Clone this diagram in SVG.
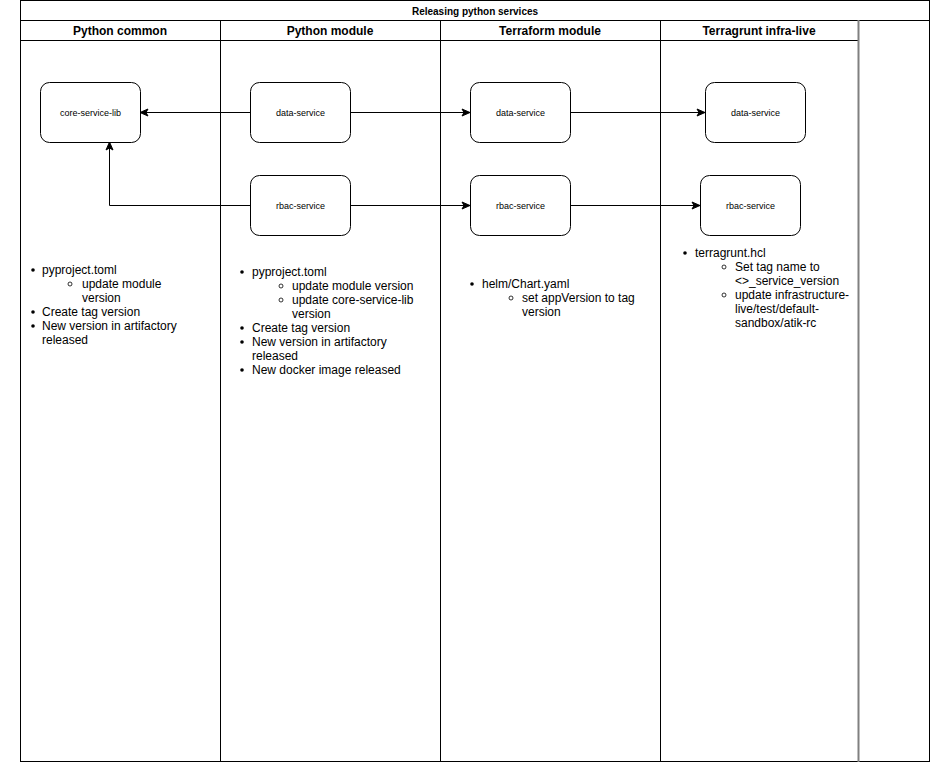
<svg xmlns="http://www.w3.org/2000/svg" width="931" height="763" viewBox="0 0 931 763">
<style>
.frame{fill:none;stroke:#000;stroke-width:1}
.node rect{fill:#fff;stroke:#000;stroke-width:1}
.node text{font-family:"Liberation Sans",Arial,sans-serif;font-size:9px;fill:#000;text-anchor:middle;dominant-baseline:central}
.title{font-family:"Liberation Sans",Arial,sans-serif;font-size:10px;font-weight:bold;text-anchor:middle;dominant-baseline:central}
.hdr{font-family:"Liberation Sans",Arial,sans-serif;font-size:12px;font-weight:bold;text-anchor:middle;dominant-baseline:central}
.lst{font-family:"Liberation Sans",Arial,sans-serif;font-size:12px;fill:#000;dominant-baseline:central}
.edge{fill:none;stroke:#000;stroke-width:1}
.dot{fill:#000}
.ring{fill:none;stroke:#000;stroke-width:0.8}
</style>
<defs>
<marker id="arr" markerUnits="userSpaceOnUse" markerWidth="10" markerHeight="10" viewBox="0 0 10 10" refX="9" refY="5" orient="auto">
<path d="M1,1.5 L9,5 L1,8.5 L3,5 Z" fill="#000" stroke="#000" stroke-width="1"/>
</marker>
</defs>
<rect x="0" y="0" width="931" height="763" fill="#fff"/>
<g id="pool">
<rect class="frame" x="20.5" y="0.5" width="909" height="761"/>
<line class="frame" x1="20" y1="20.5" x2="930" y2="20.5"/>
<line class="frame" x1="20" y1="40.5" x2="858" y2="40.5"/>
<line class="frame" x1="220.5" y1="20" x2="220.5" y2="762"/>
<line class="frame" x1="440.5" y1="20" x2="440.5" y2="762"/>
<line class="frame" x1="660.5" y1="20" x2="660.5" y2="762"/>
<line x1="858.5" y1="20" x2="858.5" y2="762" stroke="#808080" stroke-width="2"/>
<text class="title" x="475" y="11">Releasing python services</text>
<text class="hdr" x="120" y="30.5">Python common</text>
<text class="hdr" x="330" y="30.5">Python module</text>
<text class="hdr" x="550" y="30.5">Terraform module</text>
<text class="hdr" x="759" y="30.5">Terragrunt infra-live</text>
</g>
<g id="edges">
<path class="edge" d="M250,112.5 L140,112.5" marker-end="url(#arr)"/>
<path class="edge" d="M250,205.5 L109.5,205.5 L109.5,142" marker-end="url(#arr)"/>
<path class="edge" d="M350,112.5 L470,112.5" marker-end="url(#arr)"/>
<path class="edge" d="M570,112.5 L705,112.5" marker-end="url(#arr)"/>
<path class="edge" d="M350,205.5 L470,205.5" marker-end="url(#arr)"/>
<path class="edge" d="M570,205.5 L700,205.5" marker-end="url(#arr)"/>
</g>
<g id="core-service-lib" class="node"><rect x="40.5" y="82.5" width="100" height="60" rx="9"/><text x="90.5" y="112.5">core-service-lib</text></g>
<g id="py-data-service" class="node"><rect x="250.5" y="82.5" width="100" height="60" rx="9"/><text x="300.5" y="112.5">data-service</text></g>
<g id="py-rbac-service" class="node"><rect x="250.5" y="175.5" width="100" height="60" rx="9"/><text x="300.5" y="205.5">rbac-service</text></g>
<g id="tf-data-service" class="node"><rect x="470.5" y="82.5" width="100" height="60" rx="9"/><text x="520.5" y="112.5">data-service</text></g>
<g id="tf-rbac-service" class="node"><rect x="470.5" y="175.5" width="100" height="60" rx="9"/><text x="520.5" y="205.5">rbac-service</text></g>
<g id="tg-data-service" class="node"><rect x="705.5" y="82.5" width="100" height="60" rx="9"/><text x="755.5" y="112.5">data-service</text></g>
<g id="tg-rbac-service" class="node"><rect x="700.5" y="175.5" width="100" height="60" rx="9"/><text x="750.5" y="205.5">rbac-service</text></g>
<g id="notes-common">
<circle class="dot" cx="33" cy="270" r="1.8"/>
<text class="lst" x="42" y="270">pyproject.toml</text>
<circle class="ring" cx="70" cy="284" r="2"/>
<text class="lst" x="82" y="284">update module</text>
<text class="lst" x="82" y="298">version</text>
<circle class="dot" cx="33" cy="312" r="1.8"/>
<text class="lst" x="42" y="312">Create tag version</text>
<circle class="dot" cx="33" cy="326" r="1.8"/>
<text class="lst" x="42" y="326">New version in artifactory</text>
<text class="lst" x="42" y="340">released</text>
</g>
<g id="notes-module">
<circle class="dot" cx="242" cy="272" r="1.8"/>
<text class="lst" x="252" y="272">pyproject.toml</text>
<circle class="ring" cx="281" cy="286" r="2"/>
<text class="lst" x="292" y="286">update module version</text>
<circle class="ring" cx="281" cy="300" r="2"/>
<text class="lst" x="292" y="300">update core-service-lib</text>
<text class="lst" x="292" y="314">version</text>
<circle class="dot" cx="242" cy="328" r="1.8"/>
<text class="lst" x="252" y="328">Create tag version</text>
<circle class="dot" cx="242" cy="342" r="1.8"/>
<text class="lst" x="252" y="342">New version in artifactory</text>
<text class="lst" x="252" y="356">released</text>
<circle class="dot" cx="242" cy="370" r="1.8"/>
<text class="lst" x="252" y="370">New docker image released</text>
</g>
<g id="notes-terraform">
<circle class="dot" cx="472" cy="284" r="1.8"/>
<text class="lst" x="482" y="284">helm/Chart.yaml</text>
<circle class="ring" cx="511" cy="298" r="2"/>
<text class="lst" x="522" y="298">set appVersion to tag</text>
<text class="lst" x="522" y="312">version</text>
</g>
<g id="notes-terragrunt">
<circle class="dot" cx="685" cy="253" r="1.8"/>
<text class="lst" x="695" y="253">terragrunt.hcl</text>
<circle class="ring" cx="724" cy="267" r="2"/>
<text class="lst" x="735" y="267">Set tag name to</text>
<text class="lst" x="735" y="281">&lt;&gt;_service_version</text>
<circle class="ring" cx="724" cy="295" r="2"/>
<text class="lst" x="735" y="295">update infrastructure-</text>
<text class="lst" x="735" y="309">live/test/default-</text>
<text class="lst" x="735" y="323">sandbox/atik-rc</text>
</g>
</svg>
